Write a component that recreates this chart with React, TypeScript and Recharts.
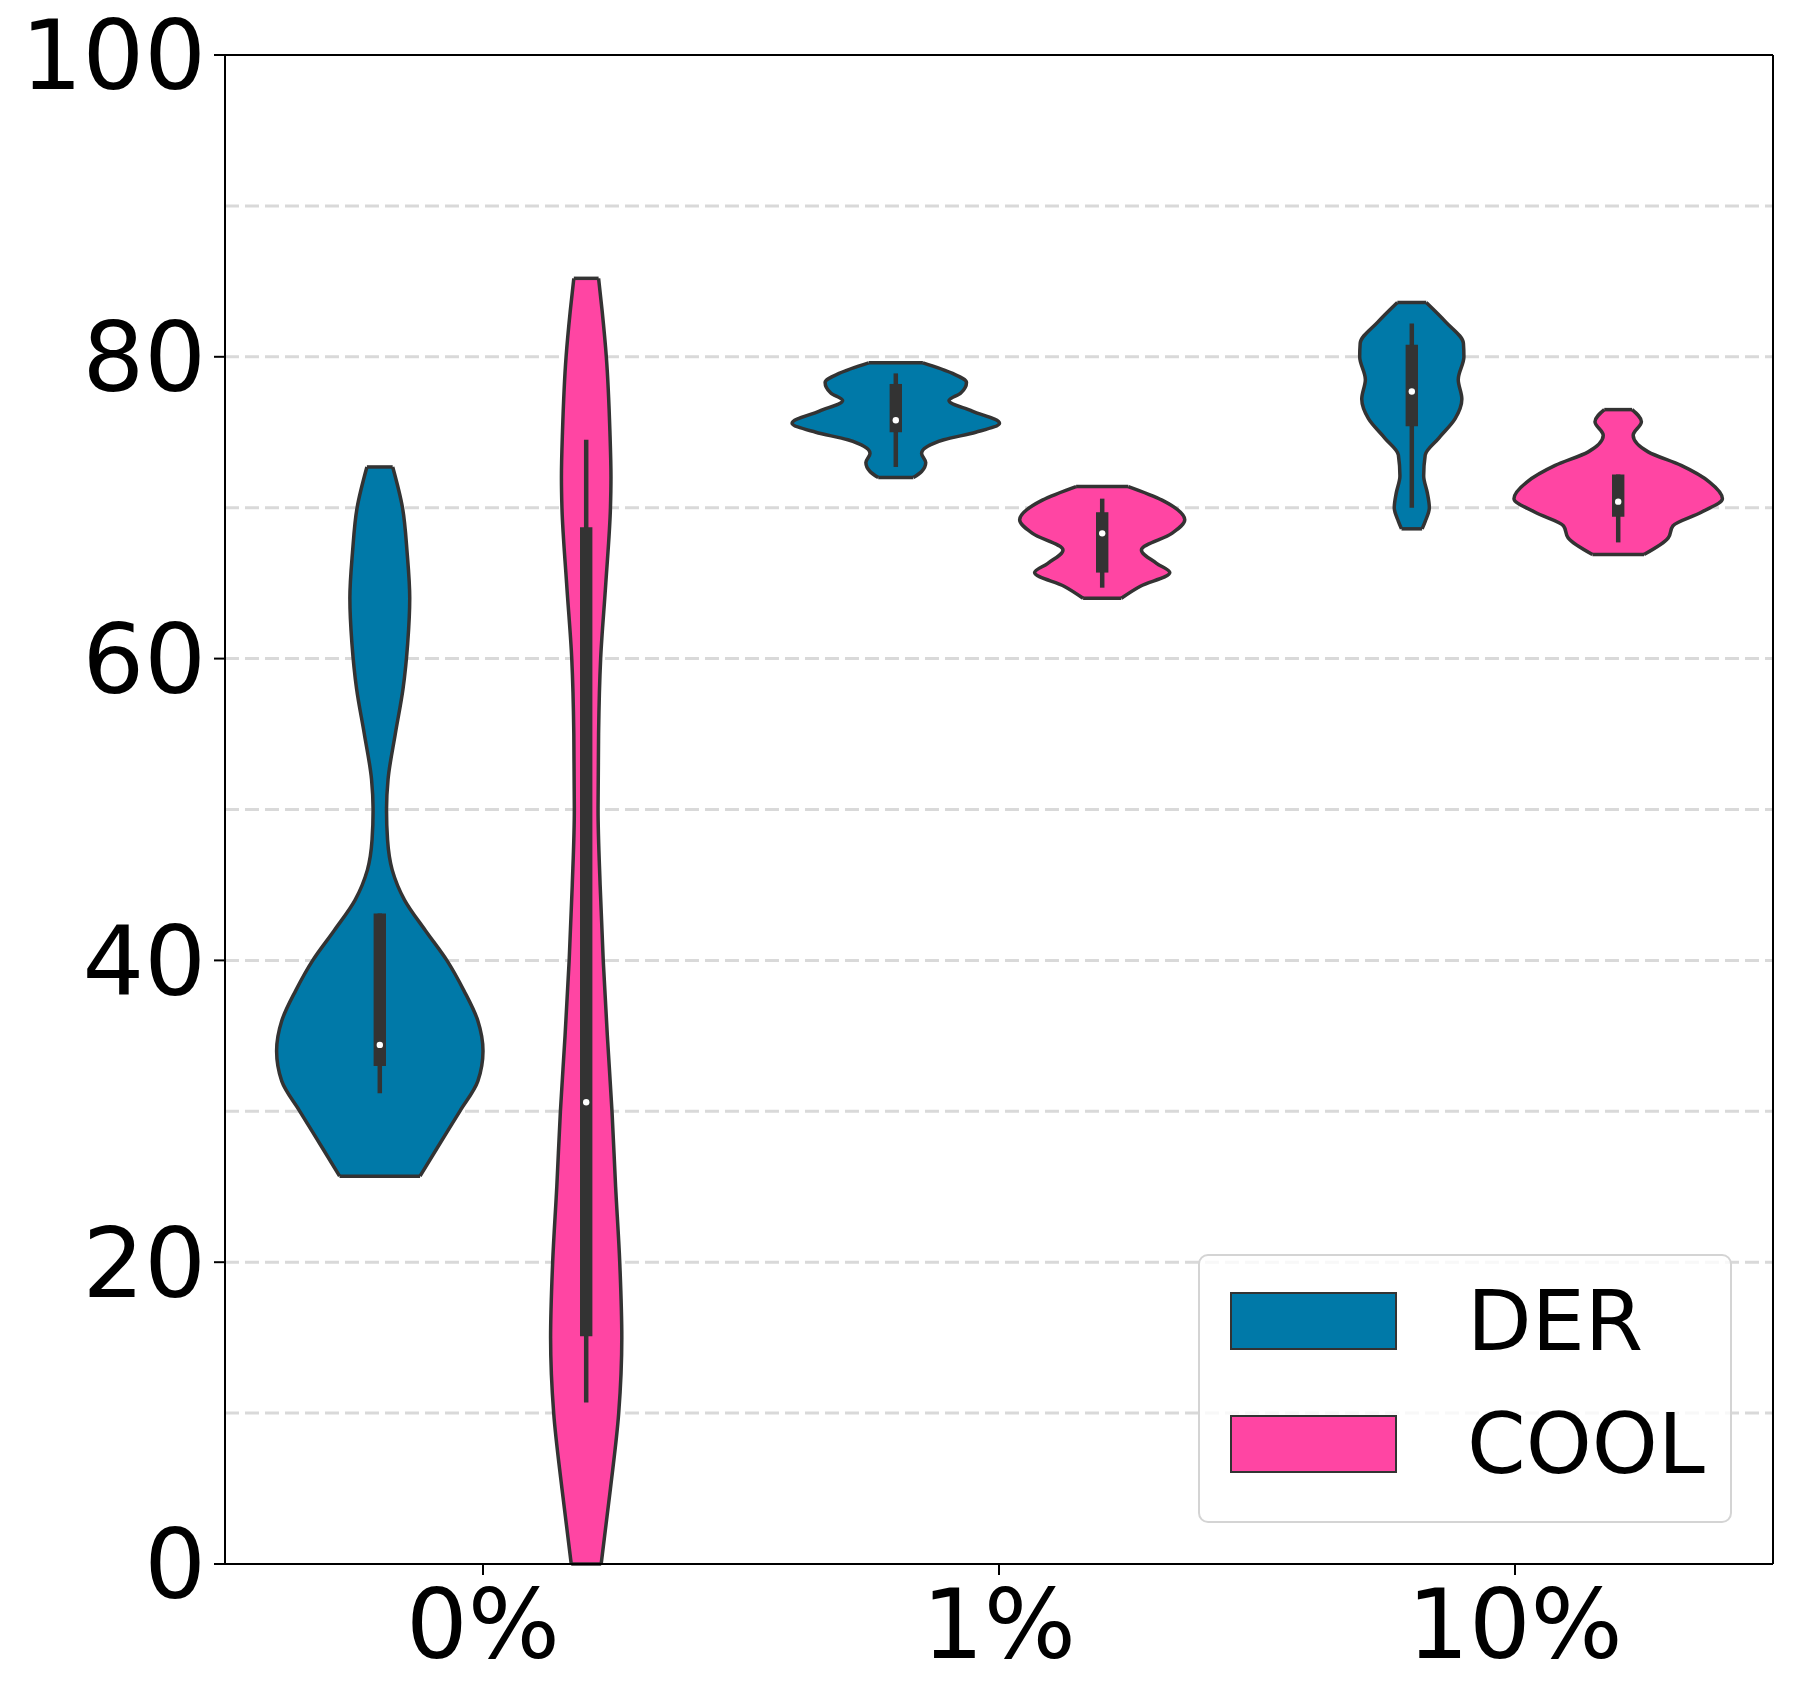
import React from 'react';
import {
  ComposedChart,
  Area,
  XAxis,
  YAxis,
  ReferenceLine,
  ReferenceArea,
  ReferenceDot,
  Legend,
} from 'recharts';

// groups on the x axis and the two hue series
const groups = ['0%', '1%', '10%'];
const seriesNames = ['DER', 'COOL'];
const seriesColors = ['#0079a8', '#ff45a3'];
const hueOffsets = [-0.2, 0.2];

const yTicks = [0, 20, 40, 60, 80, 100];
const gridValues = [10, 20, 30, 40, 50, 60, 70, 80, 90];

// violin outlines: value (y) and half width (in x units)
const der0Y = [25.7, 27.5, 30, 32, 34, 36, 38, 40, 42, 44, 46, 48, 50, 52, 55, 58, 61, 64, 67, 70, 72.7];
const der0W = [0.078, 0.11, 0.155, 0.19, 0.2, 0.19, 0.163, 0.13, 0.088, 0.048, 0.024, 0.015, 0.013, 0.016, 0.03, 0.045, 0.054, 0.058, 0.053, 0.044, 0.025];

const cool0Y = [0, 5, 10, 15, 20, 25, 30, 35, 40, 45, 50, 55, 60, 65, 70, 72, 75, 80, 83, 85.2];
const cool0W = [0.029, 0.047, 0.063, 0.069, 0.065, 0.057, 0.05, 0.041, 0.033, 0.027, 0.023, 0.024, 0.028, 0.038, 0.047, 0.048, 0.046, 0.039, 0.031, 0.024];

const der1Y = [72.0, 72.4, 73.0, 73.6, 74.5, 75.0, 75.6, 76.4, 77.1, 77.6, 78.3, 78.9, 79.6];
const der1W = [0.034, 0.05, 0.058, 0.05, 0.093, 0.155, 0.201, 0.148, 0.103, 0.126, 0.137, 0.11, 0.0525];

const cool1Y = [64.0, 64.8, 65.7, 66.3, 67.2, 68.3, 69.2, 70.5, 71.4];
const cool1W = [0.037, 0.074, 0.131, 0.106, 0.076, 0.135, 0.16, 0.116, 0.0506];

const der10Y = [68.6, 69.1, 70.0, 71.0, 72.1, 73.5, 74.6, 75.9, 77.2, 78.5, 80.0, 80.9, 82.3, 83.6];
const der10W = [0.02, 0.026, 0.034, 0.03, 0.023, 0.026, 0.052, 0.084, 0.097, 0.09, 0.101, 0.1, 0.066, 0.028];

const cool10Y = [66.9, 68.0, 68.8, 69.7, 70.6, 71.7, 72.8, 73.7, 74.8, 75.7, 76.5];
const cool10W = [0.05, 0.097, 0.106, 0.161, 0.202, 0.177, 0.122, 0.058, 0.029, 0.045, 0.027];

// inner box stats per group
const derLow = [31.2, 72.7, 70.0];
const derQ1 = [33.0, 75.0, 75.4];
const derMed = [34.4, 75.8, 77.7];
const derQ3 = [43.1, 78.2, 80.8];
const derHigh = [43.1, 78.9, 82.2];

const coolLow = [10.7, 64.7, 67.7];
const coolQ1 = [15.1, 65.7, 69.4];
const coolMed = [30.6, 68.3, 70.4];
const coolQ3 = [68.7, 69.7, 72.2];
const coolHigh = [74.5, 70.6, 72.2];

const violins = [
  { group: 0, series: 0, y: der0Y, w: der0W },
  { group: 0, series: 1, y: cool0Y, w: cool0W },
  { group: 1, series: 0, y: der1Y, w: der1W },
  { group: 1, series: 1, y: cool1Y, w: cool1W },
  { group: 2, series: 0, y: der10Y, w: der10W },
  { group: 2, series: 1, y: cool10Y, w: cool10W },
];

const boxes = [
  { low: derLow, q1: derQ1, med: derMed, q3: derQ3, high: derHigh },
  { low: coolLow, q1: coolQ1, med: coolMed, q3: coolQ3, high: coolHigh },
];

const FONT = 'DejaVu Sans';
const OUTLINE = '#333333';
const BOX_HALF = 0.012;

function LegendBox() {
  return (
    <div
      style={{
        boxSizing: 'border-box',
        width: '100%',
        height: '100%',
        border: '2.5px solid #d4d4d4',
        borderRadius: 10,
        background: 'rgba(255,255,255,0.8)',
        position: 'relative',
        fontFamily: FONT,
      }}
    >
      {seriesNames.map((name, i) => (
        <div
          key={name}
          style={{
            position: 'absolute',
            left: 30,
            top: 36 + i * 123,
            height: 58,
            display: 'flex',
            alignItems: 'center',
          }}
        >
          <div
            style={{
              boxSizing: 'border-box',
              width: 167,
              height: 58,
              background: seriesColors[i],
              border: `2px solid ${OUTLINE}`,
            }}
          />
          <span
            style={{
              marginLeft: 70,
              fontSize: 84,
              lineHeight: '58px',
              color: '#000',
            }}
          >
            {name}
          </span>
        </div>
      ))}
    </div>
  );
}

export default function App() {
  return (
    <div style={{ position: 'absolute', left: 0, top: 0, background: '#fff' }}>
      <ComposedChart
        layout="vertical"
        width={1795}
        height={1698}
        margin={{ top: 55, right: 22, left: 0, bottom: 0 }}
        style={{ fontFamily: FONT }}
      >
        <XAxis
          type="number"
          domain={[-0.5, 2.5]}
          allowDataOverflow
          ticks={[0, 1, 2]}
          interval={0}
          tickFormatter={(v: number) => groups[v]}
          tick={{ fontSize: 97, fill: '#000', fontFamily: FONT }}
          tickLine={{ stroke: '#000', strokeWidth: 2 }}
          axisLine={{ stroke: '#000', strokeWidth: 2 }}
          tickSize={11}
          tickMargin={14}
          height={134}
        />
        <YAxis
          type="number"
          dataKey="y"
          domain={[0, 100]}
          reversed
          allowDataOverflow
          ticks={yTicks}
          interval={0}
          tick={{ fontSize: 97, fill: '#000', fontFamily: FONT }}
          tickLine={{ stroke: '#000', strokeWidth: 2 }}
          axisLine={{ stroke: '#000', strokeWidth: 2 }}
          tickSize={11}
          tickMargin={8}
          width={225}
        />

        {gridValues.map((v) => (
          <ReferenceLine
            key={`grid-${v}`}
            y={v}
            stroke="#d9d9d9"
            strokeWidth={3}
            strokeDasharray="14 6"
            zIndex={-10}
          />
        ))}
        <ReferenceLine y={100} stroke="#000" strokeWidth={2} zIndex={500} />
        <ReferenceLine x={2.5} stroke="#000" strokeWidth={2} zIndex={500} />

        {violins.map((v) => {
          const c = v.group + hueOffsets[v.series];
          const data = v.y.map((y, i) => ({ y, span: [c - v.w[i], c + v.w[i]] }));
          return (
            <Area
              key={`violin-${v.group}-${v.series}`}
              data={data}
              dataKey="span"
              type="monotone"
              fill={seriesColors[v.series]}
              fillOpacity={1}
              stroke={OUTLINE}
              strokeWidth={3.5}
              dot={false}
              activeDot={false}
              isAnimationActive={false}
            />
          );
        })}

        {violins.map((v) => {
          const c = v.group + hueOffsets[v.series];
          const last = v.y.length - 1;
          return [
            <ReferenceLine
              key={`cap-lo-${v.group}-${v.series}`}
              segment={[
                { x: c - v.w[0], y: v.y[0] },
                { x: c + v.w[0], y: v.y[0] },
              ]}
              stroke={OUTLINE}
              strokeWidth={3.5}
              zIndex={150}
            />,
            <ReferenceLine
              key={`cap-hi-${v.group}-${v.series}`}
              segment={[
                { x: c - v.w[last], y: v.y[last] },
                { x: c + v.w[last], y: v.y[last] },
              ]}
              stroke={OUTLINE}
              strokeWidth={3.5}
              zIndex={150}
            />,
          ];
        })}

        {boxes.map((b, s) =>
          groups.map((g, gi) => {
            const c = gi + hueOffsets[s];
            return [
              <ReferenceLine
                key={`whisker-${s}-${gi}`}
                segment={[
                  { x: c, y: b.low[gi] },
                  { x: c, y: b.high[gi] },
                ]}
                stroke={OUTLINE}
                strokeWidth={4.5}
                zIndex={650}
              />,
              <ReferenceArea
                key={`box-${s}-${gi}`}
                x1={c - BOX_HALF}
                x2={c + BOX_HALF}
                y1={b.q1[gi]}
                y2={b.q3[gi]}
                fill={OUTLINE}
                fillOpacity={1}
                stroke="none"
                zIndex={700}
              />,
              <ReferenceDot
                key={`med-${s}-${gi}`}
                x={c}
                y={b.med[gi]}
                r={3.2}
                fill="#fff"
                stroke="none"
                zIndex={800}
              />,
            ];
          })
        )}

        <Legend
          layout="vertical"
          align="center"
          verticalAlign="middle"
          wrapperStyle={{ left: 1198, top: 1254, width: 534, height: 269 }}
          content={() => <LegendBox />}
        />
      </ComposedChart>
    </div>
  );
}
